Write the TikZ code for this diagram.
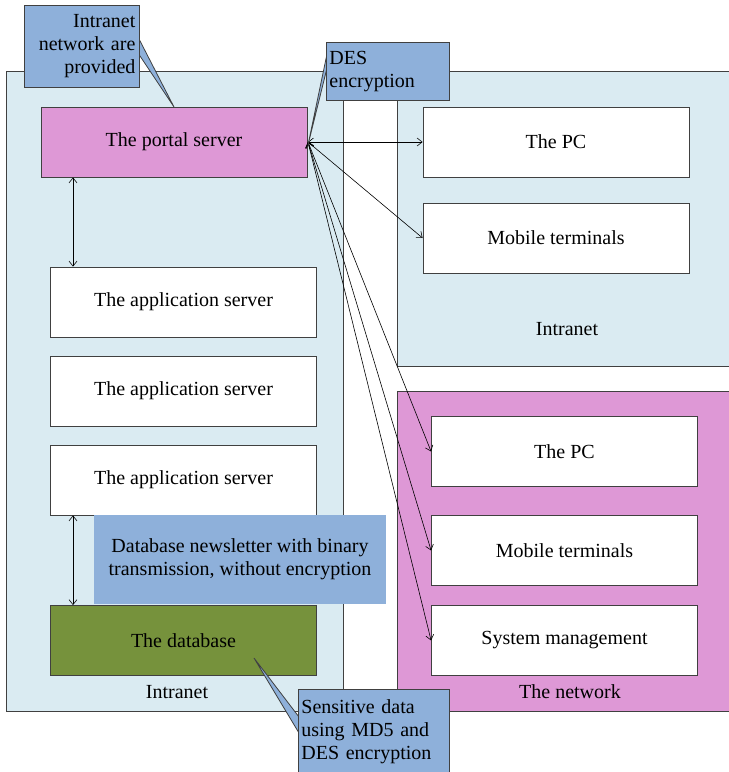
\documentclass[tikz,border=0pt]{standalone}
\usepackage{fontspec}
\setmainfont{Liberation Serif}
\usetikzlibrary{arrows.meta}
\definecolor{zoneblue}{HTML}{DAEBF2}
\definecolor{zonepink}{HTML}{DE98D6}
\definecolor{dbgreen}{HTML}{76923C}
\definecolor{noteblue}{HTML}{8EB0DA}
\definecolor{edge}{HTML}{404040}
\begin{document}
\begin{tikzpicture}[x=1pt,y=-1pt,
  every node/.style={font=\fontsize{20}{23}\selectfont, inner sep=0pt},
  zone/.style={draw=edge, line width=0.8pt, anchor=north west},
  box/.style={draw=edge, line width=0.8pt, fill=white, minimum width=266pt, minimum height=70pt},
  note/.style={fill=noteblue, draw=edge, line width=0.8pt},
  link/.style={draw=black, line width=0.6pt, {Straight Barb[length=5pt,width=8pt]}-{Straight Barb[length=5pt,width=8pt]}}
]
\useasboundingbox (0,0) rectangle (729,772);
% zones
\node[zone, fill=zoneblue, minimum width=337pt, minimum height=640pt] (zl) at (6,71) {};
\node[zone, fill=zoneblue, minimum width=345pt, minimum height=295pt] (zr) at (397,71) {};
\node[zone, fill=zonepink, minimum width=345pt, minimum height=320pt] (zn) at (397,391) {};
\node (lbl1) at (177,692) {Intranet};
\node (lbl2) at (567,329) {Intranet};
\node (lbl3) at (570,692) {The network};
% left boxes
\node[box, fill=zonepink] (portal) at (174,142) {The portal server};
\node[box] (app1) at (183.5,302) {The application server};
\node[box] (app2) at (183.5,391) {The application server};
\node[box] (app3) at (183.5,480) {The application server};
\node[box, fill=dbgreen] (db) at (183.5,640.5) {The database};
% right boxes
\node[box] (pc1) at (556,142) {The PC};
\node[box] (mob1) at (556,238) {Mobile terminals};
\node[box] (pc2) at (564.5,451.5) {The PC};
\node[box] (mob2) at (564.5,550.5) {Mobile terminals};
\node[box] (sys) at (564.5,640.5) {System management};
% blue note without border
\node[fill=noteblue, minimum width=292pt, minimum height=89pt, align=center] (dbnote) at (240,559.5) {Database newsletter with binary\\transmission, without encryption};
% connectors
\draw[link] (portal.south -| 73,0) coordinate (pb) -- (pb |- app1.north);
\draw[link] (app3.south -| 73,0) coordinate (ab) -- (ab |- db.north);
\coordinate (pe) at (308,142);
\draw[link] (pe) -- (pc1.west);
\draw[link] (pe) -- (mob1.west);
\draw[link] (pe) -- (pc2.west);
\draw[link] (pe) -- (mob2.west);
\draw[link] (pe) -- (sys.west);
% callouts
\coordinate (t1) at (174,107);
\fill[note] (138,37) -- (t1) -- (138,53) -- cycle;
\node[note, minimum width=115pt, minimum height=82pt, anchor=north west, align=right, text width=107pt] (c1) at (24,5) {Intranet\\network are\\provided};
\coordinate (t2) at (308,145);
\fill[note] (327,54) -- (t2) -- (327,68) -- cycle;
\node[note, minimum width=123pt, minimum height=58pt, anchor=north west, align=left, text width=117pt] (c2) at (326,42) {DES\\encryption};
\coordinate (t3) at (254,658);
\fill[note] (299,717) -- (t3) -- (299,733) -- cycle;
\node[note, minimum width=151pt, minimum height=84pt, anchor=north west, align=left, text width=145pt] (c3) at (298,689) {Sensitive data\\using MD5 and\\DES encryption};
\end{tikzpicture}
\end{document}
